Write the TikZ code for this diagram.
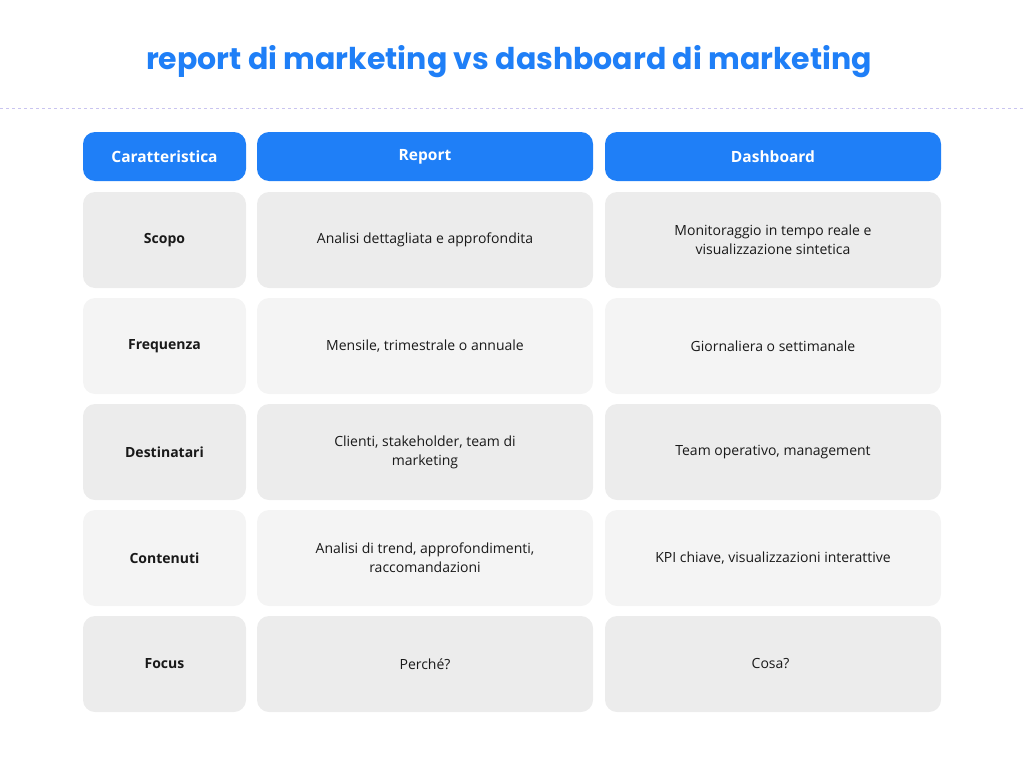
\documentclass[tikz,border=0pt]{standalone}
\usepackage{fontspec}
\setmainfont{Open Sans}
\newfontfamily\titlefont{Poppins}
\usetikzlibrary{positioning}
\definecolor{headBlue}{HTML}{1F7FF7}
\definecolor{cellDark}{HTML}{ECECEC}
\definecolor{cellLight}{HTML}{F4F4F4}
\definecolor{ruleLine}{HTML}{C9C4F0}

\tikzset{
  cell/.style={rounded corners=12pt, inner sep=0pt, align=center,
    font=\fontsize{14}{19}\selectfont, text=black!90},
  head/.style={cell, fill=headBlue, text=white, font=\fontsize{15.5}{19}\selectfont\bfseries},
}

\begin{document}
\begin{tikzpicture}[x=1pt,y=-1pt]
\useasboundingbox (0,0) rectangle (1024,768);

% title and rule
\node (title) at (509,62) {\titlefont\bfseries\fontsize{30}{36}\selectfont\color{headBlue}report di marketing vs dashboard di marketing};
\draw [ruleLine, dashed, thin] (0,108) -- (1024,108);

% header row
\node[head, minimum width=163pt, minimum height=49pt] (hChar) at (164.5,156.5) {Caratteristica};
\node[head, minimum width=336pt, minimum height=49pt] (hRep) at (425,156.5) {Report};
\node[head, minimum width=336pt, minimum height=49pt] (hDash) at (773,156.5) {Dashboard};

% body rows
\def\rows{
  240/cellDark/Scopo/{Analisi dettagliata e approfondita}/{Monitoraggio in tempo reale e\\visualizzazione sintetica},
  346/cellLight/Frequenza/{Mensile, trimestrale o annuale}/{Giornaliera o settimanale},
  452/cellDark/Destinatari/{Clienti, stakeholder, team di\\marketing}/{Team operativo, management},
  558/cellLight/Contenuti/{Analisi di trend, approfondimenti,\\raccomandazioni}/{KPI chiave, visualizzazioni interattive},
  664/cellDark/Focus/{Perché?}/{Cosa?}
}
\foreach \yc/\fc/\name/\rep/\dash [count=\ni] in \rows
{
  \node[cell, fill=\fc, minimum width=163pt, minimum height=96pt, font=\fontsize{14}{19}\selectfont\bfseries] (c\ni) at (164.5,\yc) {\name};
  \node[cell, fill=\fc, minimum width=336pt, minimum height=96pt] (r\ni) at (425,\yc) {\rep};
  \node[cell, fill=\fc, minimum width=336pt, minimum height=96pt] (d\ni) at (773,\yc) {\dash};
}
\end{tikzpicture}
\end{document}
